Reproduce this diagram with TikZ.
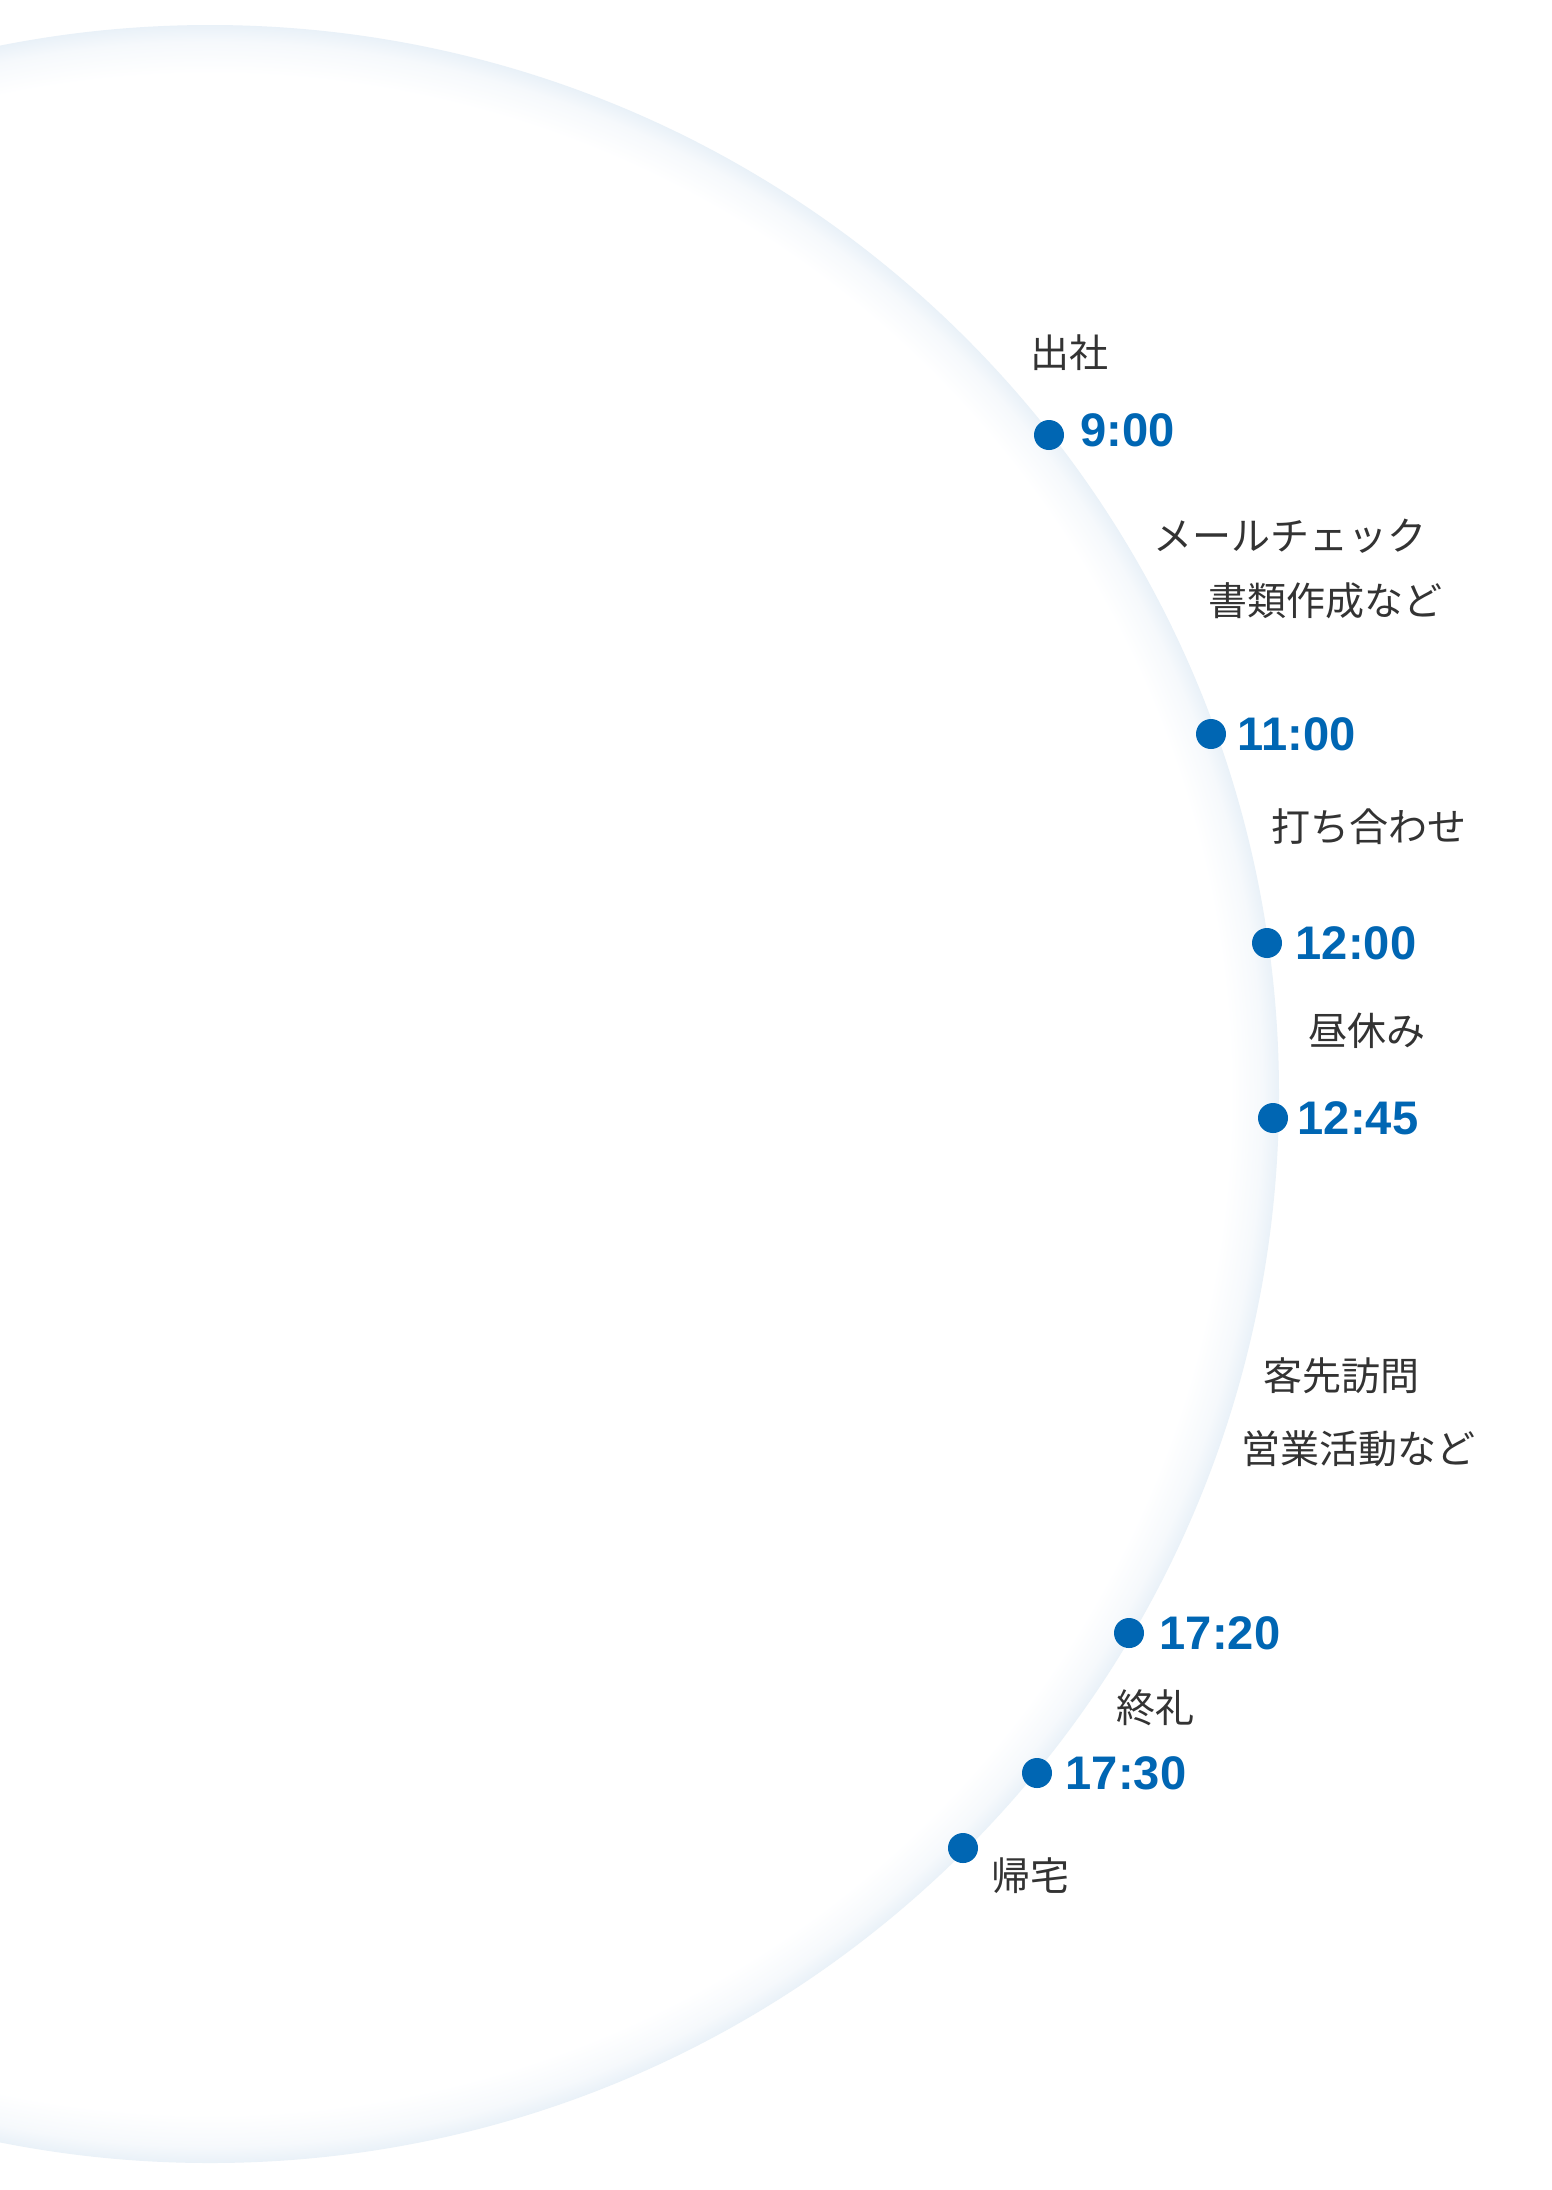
\documentclass[tikz,border=0pt]{standalone}
\usepackage{fontspec}
\newfontfamily\jpfont{Noto Sans CJK JP}
\newfontfamily\timefont{Liberation Sans}
\definecolor{edgec}{HTML}{E9F1F8}
\definecolor{midc}{HTML}{F6F9FC}
\definecolor{dotblue}{HTML}{0066B3}
\definecolor{txtgray}{HTML}{333333}
\pgfdeclareradialshading{ringglow}{\pgfpoint{0cm}{0cm}}{color(0bp)=(white); color(23.85bp)=(white); color(24.6bp)=(midc); color(25bp)=(edgec); color(50bp)=(edgec)}
\tikzset{
  jplabel/.style={anchor=west, inner sep=0pt, text=txtgray, font=\jpfont\fontsize{11.1pt}{13pt}\selectfont},
  timelabel/.style={anchor=west, inner sep=0pt, text=dotblue, font=\timefont\bfseries\fontsize{13.4pt}{15pt}\selectfont},
  tdot/.style={circle, fill=dotblue, inner sep=0pt, minimum size=0.3cm}
}
\begin{document}
\begin{tikzpicture}[x=0.01cm,y=-0.01cm]
\useasboundingbox (0,0) rectangle (1552,2190);
\fill[white] (0,0) rectangle (1552,2190);
\begin{scope}
\clip (0,0) rectangle (1552,2190);
\shade[shading=ringglow] (210,1094) circle (1069);
\end{scope}
% dots
\node[tdot] (d1) at (1049,435) {};
\node[tdot] (d2) at (1211,734) {};
\node[tdot] (d3) at (1267,943) {};
\node[tdot] (d4) at (1273,1118) {};
\node[tdot] (d5) at (1129,1633) {};
\node[tdot] (d6) at (1037,1773) {};
\node[tdot] (d7) at (963,1848) {};
% times
\node[timelabel] (t1) at (1080,430) {9:00};
\node[timelabel] (t2) at (1237,734) {11:00};
\node[timelabel] (t3) at (1295,943) {12:00};
\node[timelabel] (t4) at (1297,1118) {12:45};
\node[timelabel] (t5) at (1159,1633) {17:20};
\node[timelabel] (t6) at (1065,1773) {17:30};
% labels
\node[jplabel] (l1) at (1030,353) {出社};
\node[jplabel] (l2) at (1153,536) {メールチェック};
\node[jplabel] (l3) at (1208,601) {書類作成など};
\node[jplabel] (l4) at (1271,827) {打ち合わせ};
\node[jplabel] (l5) at (1308,1031) {昼休み};
\node[jplabel] (l6) at (1263,1376) {客先訪問};
\node[jplabel] (l7) at (1241,1449) {営業活動など};
\node[jplabel] (l8) at (1116,1708) {終礼};
\node[jplabel] (l9) at (991,1876) {帰宅};
\end{tikzpicture}
\end{document}
